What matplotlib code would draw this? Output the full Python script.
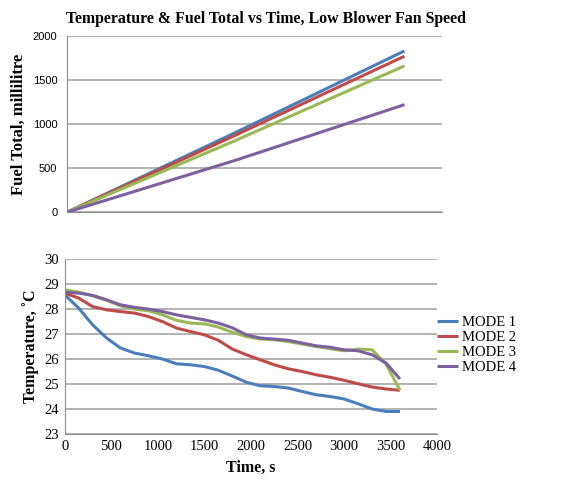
import numpy as np
import matplotlib.pyplot as plt

# Time stamps (s)
time_s = [0, 150, 300, 450, 600, 750, 900, 1050, 1200, 1350, 1500, 1650, 1800,
          1950, 2100, 2250, 2400, 2550, 2700, 2850, 3000, 3150, 3300, 3450, 3600]
time_fuel = [0, 1800, 3600]

# Fuel totals (ml)
fuel_m1 = [0, 905, 1830]
fuel_m2 = [0, 875, 1770]
fuel_m3 = [0, 815, 1660]
fuel_m4 = [0, 590, 1220]

# Temperatures (deg C)
temp_m1 = [28.57, 28.04, 27.37, 26.84, 26.44, 26.24, 26.13, 26.0, 25.81, 25.77, 25.7, 25.55, 25.32,
           25.07, 24.93, 24.9, 24.84, 24.7, 24.57, 24.5, 24.4, 24.21, 24.0, 23.9, 23.9]
temp_m2 = [28.64, 28.44, 28.1, 27.97, 27.9, 27.84, 27.7, 27.5, 27.24, 27.1, 26.97, 26.75, 26.4,
           26.17, 25.97, 25.77, 25.61, 25.5, 25.37, 25.27, 25.15, 25.01, 24.88, 24.8, 24.75]
temp_m3 = [28.77, 28.68, 28.53, 28.35, 28.13, 28.0, 27.93, 27.77, 27.55, 27.44, 27.41, 27.28, 27.07,
           26.9, 26.8, 26.77, 26.7, 26.6, 26.5, 26.41, 26.33, 26.4, 26.37, 25.8, 24.75]
temp_m4 = [28.67, 28.64, 28.55, 28.37, 28.17, 28.07, 28.0, 27.9, 27.77, 27.67, 27.57, 27.44, 27.25,
           26.97, 26.84, 26.8, 26.75, 26.64, 26.53, 26.47, 26.37, 26.33, 26.17, 25.84, 25.2]

labels = ['MODE 1', 'MODE 2', 'MODE 3', 'MODE 4']
colors = ['#4a7ebb', '#be4b48', '#98b954', '#7d60a0']

serif = 'Liberation Serif'
sans = 'Liberation Sans'


def style_axes(ax, family, size, pad):
    for side in ['top', 'right']:
        ax.spines[side].set_visible(False)
    ax.spines['left'].set_color('#8c8c8c')
    ax.spines['bottom'].set_color('#8c8c8c')
    ax.yaxis.grid(True, color='#a6a6a6', linewidth=1.2)
    ax.set_axisbelow(True)
    ax.tick_params(length=0, labelsize=size, pad=pad)
    for lab in ax.get_xticklabels() + ax.get_yticklabels():
        lab.set_fontfamily(family)


fig = plt.figure(figsize=(5.83, 4.79), dpi=100)

# top: fuel
ax1 = fig.add_axes([0.115, 0.557, 0.643, 0.368])
for vals, c in zip([fuel_m1, fuel_m2, fuel_m3, fuel_m4], colors):
    ax1.plot(time_fuel, vals, color=c, linewidth=2.2, solid_capstyle='butt')
ax1.set_xlim(0, 4000)
ax1.set_ylim(0, 2000)
ax1.set_yticks([0, 500, 1000, 1500, 2000])
ax1.set_xticks([])
style_axes(ax1, sans, 8, 7)
ax1.set_ylabel('Fuel Total, millilitre', fontfamily=serif, fontweight='bold', fontsize=12)
ax1.set_title('Temperature & Fuel Total vs Time, Low Blower Fan Speed',
              fontfamily=serif, fontweight='bold', fontsize=11.4, x=0.53, pad=9)

# bottom: temperature
ax2 = fig.add_axes([0.111, 0.094, 0.639, 0.365])
for vals, c, lab in zip([temp_m1, temp_m2, temp_m3, temp_m4], colors, labels):
    ax2.plot(time_s, vals, color=c, linewidth=2.2, label=lab, solid_capstyle='butt')
ax2.set_xlim(0, 4000)
ax2.set_ylim(23, 30)
ax2.set_xticks(np.arange(0, 4001, 500))
ax2.set_yticks(np.arange(23, 31, 1))
style_axes(ax2, serif, 10.5, 4)
ax2.set_ylabel('Temperature, \u02daC', fontfamily=serif, fontweight='bold', fontsize=11.5)
ax2.set_xlabel('Time, s', fontfamily=serif, fontweight='bold', fontsize=11.5, labelpad=5)
ax2.legend(loc='center left', bbox_to_anchor=(1.0, 0.51), frameon=False,
           prop={'family': serif, 'size': 10.5}, handlelength=1.4, handletextpad=0.3,
           labelspacing=0.12, borderpad=0, borderaxespad=0)

fig.savefig('out.png', dpi=100)
